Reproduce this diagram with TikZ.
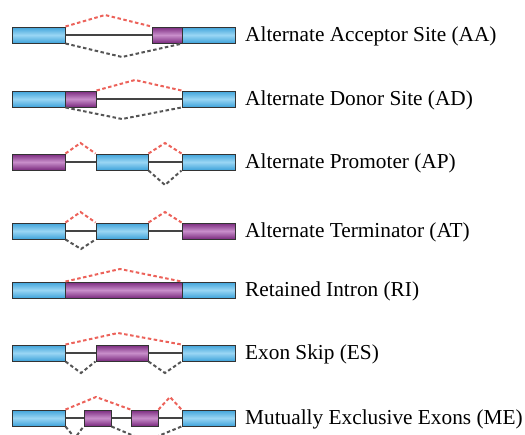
\documentclass[tikz,border=0pt]{standalone}
\usepackage{fontspec}
\setmainfont{Liberation Serif}
\usetikzlibrary{backgrounds}
\definecolor{bluemid}{HTML}{9AD6F4}
\definecolor{blueedge}{HTML}{3FA3DA}
\definecolor{purpmid}{HTML}{C98FCB}
\definecolor{purpedge}{HTML}{7A2A7E}
\definecolor{outl}{HTML}{333333}
\definecolor{redd}{HTML}{EC625A}
\definecolor{grayd}{HTML}{555555}
\definecolor{intr}{HTML}{444444}
\tikzset{
  exon/.style={draw=outl, line width=1pt, inner sep=0pt, minimum height=16pt, shading=axis},
  bluebox/.style={exon, top color=blueedge, bottom color=blueedge, middle color=bluemid},
  purpbox/.style={exon, top color=purpedge, bottom color=purpedge, middle color=purpmid},
  intron/.style={draw=intr, line width=1.8pt},
  reddash/.style={draw=redd, line width=2pt, dash pattern=on 3.5pt off 2.5pt},
  graydash/.style={draw=grayd, line width=2pt, dash pattern=on 3.5pt off 2.5pt},
  lbl/.style={anchor=west, font=\fontsize{21.3}{25}\selectfont, inner sep=0pt}
}
\begin{document}
\begin{tikzpicture}[x=1pt,y=-1pt]
\useasboundingbox (0,0) rectangle (525,434);
\clip (0,0) rectangle (525,434);
% Row 1: AA
\node[bluebox, minimum width=53pt] (a1) at (38.5,35) {};
\node[purpbox, minimum width=30pt] (a2) at (167,35) {};
\node[bluebox, minimum width=53pt] (a3) at (208.5,35) {};
\coordinate (a1r) at (105,15);
\coordinate (a1g) at (122,57);
\node[lbl] (t1) at (245,36) {Alternate Acceptor Site (AA)};
% Row 2: AD
\node[bluebox, minimum width=53pt] (b1) at (38.5,99) {};
\node[purpbox, minimum width=31pt] (b2) at (80.5,99) {};
\node[bluebox, minimum width=53pt] (b3) at (208.5,99) {};
\coordinate (b2r) at (135,80);
\coordinate (b2g) at (122,119);
\node[lbl] (t2) at (245,100) {Alternate Donor Site (AD)};
% Row 3: AP
\node[purpbox, minimum width=53pt] (c1) at (38.5,162) {};
\node[bluebox, minimum width=52pt] (c2) at (122,162) {};
\node[bluebox, minimum width=53pt] (c3) at (208.5,162) {};
\coordinate (c3r1) at (80.5,143);
\coordinate (c3r2) at (165,143);
\coordinate (c3g) at (165,185);
\node[lbl] (t3) at (245,163) {Alternate Promoter (AP)};
% Row 4: AT
\node[bluebox, minimum width=53pt] (d1) at (38.5,231) {};
\node[bluebox, minimum width=52pt] (d2) at (122,231) {};
\node[purpbox, minimum width=53pt] (d3) at (208.5,231) {};
\coordinate (d4r1) at (80.5,212);
\coordinate (d4r2) at (165,212);
\coordinate (d4g) at (81,249);
\node[lbl] (t4) at (245,232) {Alternate Terminator (AT)};
% Row 5: RI
\node[bluebox, minimum width=53pt] (e1) at (38.5,290) {};
\node[purpbox, minimum width=117pt] (e2) at (123.5,290) {};
\node[bluebox, minimum width=53pt] (e3) at (208.5,290) {};
\coordinate (e5r) at (120,269);
\node[lbl] (t5) at (245,291) {Retained Intron (RI)};
% Row 6: ES
\node[bluebox, minimum width=53pt] (f1) at (38.5,353) {};
\node[purpbox, minimum width=52pt] (f2) at (122,353) {};
\node[bluebox, minimum width=53pt] (f3) at (208.5,353) {};
\coordinate (f6r) at (118,333);
\coordinate (f6g1) at (81,373);
\coordinate (f6g2) at (165,373);
\node[lbl] (t6) at (245,354) {Exon Skip (ES)};
% Row 7: ME
\node[bluebox, minimum width=53pt] (g1) at (38.5,418) {};
\node[purpbox, minimum width=27pt] (g2) at (97.5,418) {};
\node[purpbox, minimum width=27pt] (g3) at (144.5,418) {};
\node[bluebox, minimum width=53pt] (g4) at (208.5,418) {};
\coordinate (g7r1) at (96,397);
\coordinate (g7r2) at (170,397);
\coordinate (g7g1) at (75,438);
\coordinate (g7g2) at (146,441);
\node[lbl] (t7) at (245,419) {Mutually Exclusive Exons (ME)};
% introns
\begin{scope}[on background layer]
\draw[intron] (a1.east) -- (a2.west);
\draw[intron] (b2.east) -- (b3.west);
\draw[intron] (c1.east) -- (c2.west);
\draw[intron] (c2.east) -- (c3.west);
\draw[intron] (d1.east) -- (d2.west);
\draw[intron] (d2.east) -- (d3.west);
\draw[intron] (f1.east) -- (f2.west);
\draw[intron] (f2.east) -- (f3.west);
\draw[intron] (g1.east) -- (g2.west);
\draw[intron] (g2.east) -- (g3.west);
\draw[intron] (g3.east) -- (g4.west);
\end{scope}
% splice paths
\draw[reddash] (a1.north east) -- (a1r) -- (a2.north west);
\draw[graydash] (a1.south east) -- (a1g) -- (a2.south east);
\draw[reddash] (b2.north east) -- (b2r) -- (b3.north west);
\draw[graydash] (b1.south east) -- (b2g) -- (b3.south west);
\draw[reddash] (c1.north east) -- (c3r1) -- (c2.north west);
\draw[reddash] (c2.north east) -- (c3r2) -- (c3.north west);
\draw[graydash] (c2.south east) -- (c3g) -- (c3.south west);
\draw[reddash] (d1.north east) -- (d4r1) -- (d2.north west);
\draw[reddash] (d2.north east) -- (d4r2) -- (d3.north west);
\draw[graydash] (d1.south east) -- (d4g) -- (d2.south west);
\draw[reddash] (e1.north east) -- (e5r) -- (e3.north west);
\draw[reddash] (f1.north east) -- (f6r) -- (f3.north west);
\draw[graydash] (f1.south east) -- (f6g1) -- (f2.south west);
\draw[graydash] (f2.south east) -- (f6g2) -- (f3.south west);
\draw[reddash] (g1.north east) -- (g7r1) -- (g3.north west);
\draw[reddash] (g3.north east) -- (g7r2) -- (g4.north west);
\draw[graydash] (g1.south east) -- (g7g1) -- (g2.south west);
\draw[graydash] (g2.south east) -- (g7g2) -- (g4.south west);
\end{tikzpicture}
\end{document}
